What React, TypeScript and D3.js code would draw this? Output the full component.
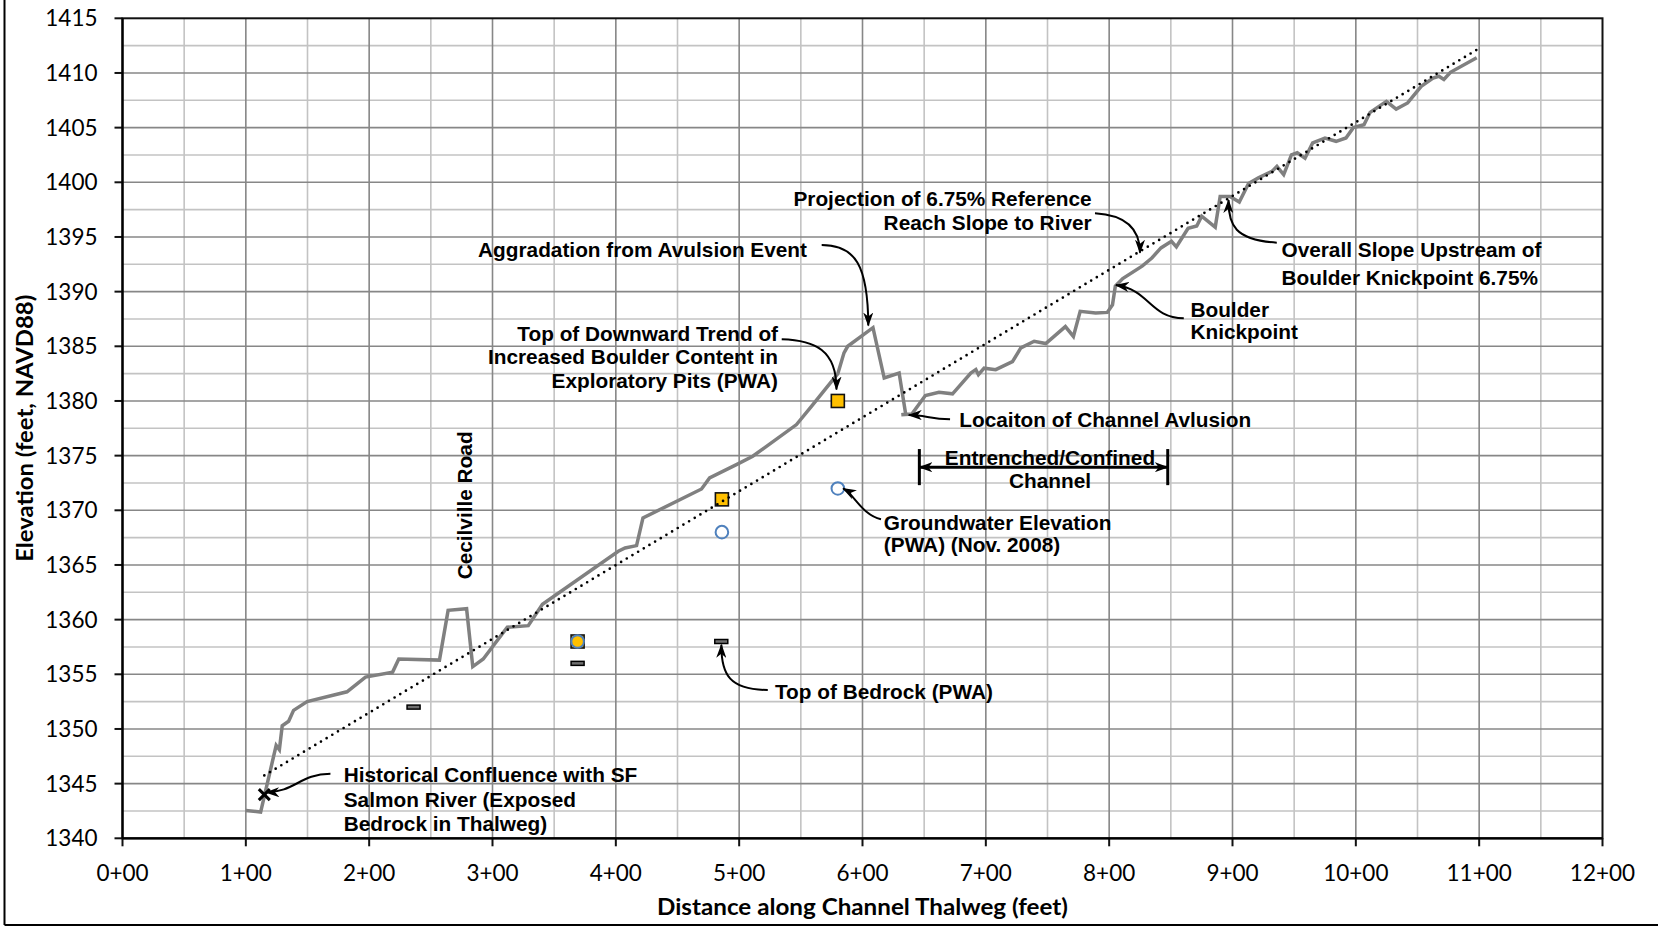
import React from "react";
import * as d3 from "d3";

// ---------- data (station in feet, elevation in feet NAVD88) ----------
const profileStation = [
  100, 112, 124.6, 127.2, 129.5, 134.7, 138.7, 149.7, 182, 197, 219, 224, 257, 264, 279, 284, 292.5,
  312, 329, 340.5, 402, 407.5, 416.8, 422, 469.5, 476, 499, 511, 546.5, 558.6, 580, 585, 588, 608.5,
  617.6, 629.7, 635, 631.5, 640, 651, 662, 673, 687.8, 691.9, 694, 698.6, 708, 721.6, 728.4, 739.2,
  748.6, 764.5, 771, 776.5, 789, 798.5, 802.7, 805, 811, 827, 834.6, 842, 850.5, 854.5, 864, 871, 875,
  886, 890, 898, 905.5, 913, 921, 932, 936, 941.5, 947.8, 952.5, 958.8, 965, 975, 984, 992, 998,
  1006.6, 1011.6, 1024.8, 1032.7, 1042, 1053, 1062.6, 1067.3, 1071.4, 1076.7, 1098,
];
const profileElevation = [
  1342.55, 1342.4, 1348.5, 1348.1, 1350.3, 1350.7, 1351.7, 1352.5, 1353.4, 1354.75, 1355.2, 1356.4,
  1356.3, 1360.85, 1361.0, 1355.7, 1356.4, 1359.3, 1359.45, 1361.4, 1366.25, 1366.56, 1366.77, 1369.3,
  1371.95, 1372.96, 1374.24, 1374.94, 1377.84, 1379.5, 1382.5, 1384.4, 1385.0, 1386.7, 1382.1, 1382.56,
  1378.8, 1378.75, 1378.8, 1380.5, 1380.8, 1380.65, 1382.56, 1382.87, 1382.4, 1383.0, 1382.86, 1383.6,
  1384.85, 1385.46, 1385.25, 1386.8, 1385.9, 1388.2, 1388.05, 1388.1, 1388.8, 1390.5, 1391.2, 1392.35,
  1393.08, 1394.0, 1394.6, 1394.1, 1395.8, 1396.0, 1396.9, 1395.9, 1398.7, 1398.7, 1398.2, 1399.9,
  1400.4, 1401.0, 1401.45, 1400.7, 1402.5, 1402.7, 1402.2, 1403.6, 1404.05, 1403.75, 1404.05, 1405.0,
  1405.27, 1406.4, 1407.4, 1406.7, 1407.26, 1408.78, 1409.54, 1409.7, 1409.4, 1410.06, 1411.4,
];
const referenceSlopeStation = [115, 1100];
const referenceSlopeElevation = [1345.75, 1412.25];

const pitStation = [369, 486, 580];
const pitElevation = [1358, 1371, 1380];

const groundwaterStation = [369, 486, 580];
const groundwaterElevation = [1358, 1368, 1372];

const bedrockStation = [236, 369, 485.5];
const bedrockElevation = [1352, 1356, 1358];

const confluenceStation = [115];
const confluenceElevation = [1344];

const xTickValues = [0, 100, 200, 300, 400, 500, 600, 700, 800, 900, 1000, 1100, 1200];
const xTickLabels = ["0+00", "1+00", "2+00", "3+00", "4+00", "5+00", "6+00", "7+00", "8+00", "9+00", "10+00", "11+00", "12+00"];
const yTickValues = [1340, 1345, 1350, 1355, 1360, 1365, 1370, 1375, 1380, 1385, 1390, 1395, 1400, 1405, 1410, 1415];

const xTitle = "Distance along Channel Thalweg (feet)";
const yTitle = "Elevation (feet, NAVD88)";

// ---------- annotations (anchored in data units) ----------
type Note = { lines: string[]; at: [number, number]; anchor: "start" | "end" | "middle"; lh: number; rotate?: boolean };
const notes: Note[] = [
  { lines: ["Historical Confluence with SF", "Salmon River (Exposed", "Bedrock in Thalweg)"], at: [179.4, 1345.79], anchor: "start", lh: 24.3 },
  { lines: ["Top of Bedrock (PWA)"], at: [529.0, 1353.43], anchor: "start", lh: 24 },
  { lines: ["Cecilville Road"], at: [277.7, 1370.45], anchor: "middle", lh: 24, rotate: true },
  { lines: ["Top of Downward Trend of", "Increased Boulder Content in", "Exploratory Pits (PWA)"], at: [531.5, 1386.19], anchor: "end", lh: 23.7 },
  { lines: ["Aggradation from Avulsion Event"], at: [555, 1393.85], anchor: "end", lh: 24 },
  { lines: ["Projection of 6.75% Reference", "Reach Slope to River"], at: [785.8, 1398.47], anchor: "end", lh: 23.3 },
  { lines: ["Overall Slope Upstream of", "Boulder Knickpoint 6.75%"], at: [939.7, 1393.81], anchor: "start", lh: 27.6 },
  { lines: ["Boulder", "Knickpoint"], at: [865.9, 1388.38], anchor: "start", lh: 22.6 },
  { lines: ["Locaiton of Channel Avlusion"], at: [678.5, 1378.32], anchor: "start", lh: 24 },
  { lines: ["Entrenched/Confined", "Channel"], at: [752, 1374.85], anchor: "middle", lh: 23.4 },
  { lines: ["Groundwater Elevation", "(PWA) (Nov. 2008)"], at: [617.3, 1368.87], anchor: "start", lh: 21.8 },
];

// cubic curves: start, control 1, control 2, tip
const arrows: [number, number][][] = [
  [[168.6, 1345.9], [143.9, 1345.88], [139.9, 1344.24], [116.5, 1344.2]],
  [[523.2, 1353.57], [492.5, 1353.57], [485.3, 1354.94], [485.6, 1357.7]],
  [[534.5, 1385.64], [561.5, 1385.55], [579.1, 1384.64], [578.9, 1381.05]],
  [[566.9, 1394.27], [593.9, 1394.27], [604.5, 1392.44], [604.7, 1386.9]],
  [[788.5, 1397.17], [812.8, 1397.01], [825, 1395.82], [825, 1393.56]],
  [[935.9, 1394.48], [902, 1394.72], [896.4, 1396.1], [896.8, 1398.38]],
  [[860.5, 1387.56], [833.1, 1387.59], [833.1, 1390.15], [805.5, 1390.6]],
  [[671, 1378.32], [654.7, 1378.35], [650.7, 1378.71], [637.5, 1378.71]],
  [[615, 1369.18], [599.6, 1369.57], [593.9, 1371.4], [584.3, 1372.0]],
];
const spanStation = [646.1, 847.5];
const spanElevation = 1373.94;
const spanBar = [1372.3, 1375.6];

export default function App() {
  const W = 1658;
  const H = 927;
  const x = d3.scaleLinear().domain([0, 1200]).range([122.5, 1602.5]);
  const y = d3.scaleLinear().domain([1340, 1415]).range([838.3, 18.3]);
  const line = d3.line<[number, number]>().x((d) => x(d[0])).y((d) => y(d[1]));

  const profile: [number, number][] = profileStation.map((s, i) => [s, profileElevation[i]]);
  const refLine: [number, number][] = referenceSlopeStation.map((s, i) => [s, referenceSlopeElevation[i]]);

  const minorX = d3.range(50, 1200, 100);
  const majorX = d3.range(100, 1200, 100);
  const minorY = d3.range(1342.5, 1415, 5);
  const majorY = d3.range(1345, 1415, 5);

  const noteFont = "'Liberation Sans', Arial, sans-serif";
  const noteSize = 20.8;
  const tickFont = "Lato, 'Open Sans', sans-serif";

  return (
    <>
      <style>{`body{margin:0;}`}</style>
      <svg width={W} height={H} style={{ display: "block", background: "#fff" }}>
        <defs>
          <marker id="ah" viewBox="0 0 14 10" refX="13" refY="5" markerWidth="14" markerHeight="10" markerUnits="userSpaceOnUse" orient="auto-start-reverse">
            <path d="M0,0 L14,5 L0,10 L4,5 Z" fill="#000" />
          </marker>
        </defs>

        {/* outer frame */}
        <line x1={4.5} x2={4.5} y1={0} y2={925} stroke="#000" strokeWidth={2} />
        <line x1={4.5} x2={W} y1={925} y2={925} stroke="#000" strokeWidth={2} />

        {/* grid */}
        <g>
          {minorX.map((v) => (
            <line key={"mx" + v} x1={x(v)} x2={x(v)} y1={y(1415)} y2={y(1340)} stroke="#c3c3c3" strokeWidth={1.6} />
          ))}
          {minorY.map((v) => (
            <line key={"my" + v} x1={x(0)} x2={x(1200)} y1={y(v)} y2={y(v)} stroke="#c3c3c3" strokeWidth={1.6} />
          ))}
          {majorX.map((v) => (
            <line key={"Mx" + v} x1={x(v)} x2={x(v)} y1={y(1415)} y2={y(1340)} stroke="#878787" strokeWidth={1.6} />
          ))}
          {majorY.map((v) => (
            <line key={"My" + v} x1={x(0)} x2={x(1200)} y1={y(v)} y2={y(v)} stroke="#878787" strokeWidth={1.6} />
          ))}
        </g>

        {/* plot border */}
        <rect x={x(0)} y={y(1415)} width={x(1200) - x(0)} height={y(1340) - y(1415)} fill="none" stroke="#111" strokeWidth={2} />

        {/* profile */}
        <path d={line(profile) || ""} fill="none" stroke="#808080" strokeWidth={3.5} strokeLinejoin="miter" strokeMiterlimit={3} />

        {/* bedrock */}
        {bedrockStation.map((s, i) => (
          <rect key={"b" + i} x={x(s) - 6.5} y={y(bedrockElevation[i]) - 2} width={13} height={4} fill="#6f6f6f" stroke="#000" strokeWidth={1.5} />
        ))}

        {/* pits */}
        {pitStation.map((s, i) => (
          <rect key={"p" + i} x={x(s) - 6.5} y={y(pitElevation[i]) - 6.5} width={13} height={13} fill="#FFC000" stroke="#111" strokeWidth={1.6} />
        ))}

        {/* groundwater */}
        {groundwaterStation.map((s, i) => (
          <circle key={"g" + i} cx={x(s)} cy={y(groundwaterElevation[i])} r={6.3} fill="none" stroke="#4F81BD" strokeWidth={2} />
        ))}

        {/* confluence X */}
        {confluenceStation.map((s, i) => {
          const cx = x(s);
          const cy = y(confluenceElevation[i]);
          return (
            <g key={"c" + i} stroke="#000" strokeWidth={3}>
              <line x1={cx - 5.5} y1={cy - 5.5} x2={cx + 5.5} y2={cy + 5.5} />
              <line x1={cx - 5.5} y1={cy + 5.5} x2={cx + 5.5} y2={cy - 5.5} />
            </g>
          );
        })}

        {/* reference slope */}
        <path d={line(refLine) || ""} fill="none" stroke="#000" strokeWidth={2.7} strokeDasharray="0 6.6" strokeLinecap="round" />

        {/* arrows */}
        {arrows.map((a, i) => (
          <path
            key={"a" + i}
            d={`M${x(a[0][0])},${y(a[0][1])} C${x(a[1][0])},${y(a[1][1])} ${x(a[2][0])},${y(a[2][1])} ${x(a[3][0])},${y(a[3][1])}`}
            fill="none"
            stroke="#000"
            strokeWidth={2}
            markerEnd="url(#ah)"
          />
        ))}

        {/* entrenched span */}
        <line x1={x(spanStation[0])} x2={x(spanStation[1])} y1={y(spanElevation)} y2={y(spanElevation)} stroke="#000" strokeWidth={3} markerStart="url(#ah)" markerEnd="url(#ah)" />
        {spanStation.map((s, i) => (
          <line key={"sb" + i} x1={x(s)} x2={x(s)} y1={y(spanBar[0])} y2={y(spanBar[1])} stroke="#000" strokeWidth={3} />
        ))}

        {/* notes */}
        {notes.map((n, i) => {
          const px = x(n.at[0]);
          const py = y(n.at[1]);
          if (n.rotate) {
            return (
              <text key={"n" + i} transform={`translate(${px},${py}) rotate(-90)`} textAnchor="middle" dy="0.35em" fontFamily={noteFont} fontWeight="bold" fontSize={noteSize} fill="#000">
                {n.lines[0]}
              </text>
            );
          }
          return (
            <text key={"n" + i} fontFamily={noteFont} fontWeight="bold" fontSize={noteSize} fill="#000" textAnchor={n.anchor}>
              {n.lines.map((l, j) => (
                <tspan key={j} x={px} y={py + j * n.lh} dy="0.35em">
                  {l}
                </tspan>
              ))}
            </text>
          );
        })}

        {/* axes ticks */}
        {yTickValues.map((v) => (
          <g key={"yt" + v}>
            <line x1={x(0) - 8} x2={x(0)} y1={y(v)} y2={y(v)} stroke="#111" strokeWidth={2} />
            <text x={x(0) - 25} y={y(v)} dy="0.36em" textAnchor="end" fontFamily={tickFont} fontSize={22.5} fill="#000">
              {v}
            </text>
          </g>
        ))}
        {xTickValues.map((v, i) => (
          <g key={"xt" + v}>
            <line x1={x(v)} x2={x(v)} y1={y(1340)} y2={y(1340) + 8} stroke="#111" strokeWidth={2} />
            <text x={x(v)} y={872.5} dy="0.36em" textAnchor="middle" fontFamily={tickFont} fontSize={22.5} fill="#000">
              {xTickLabels[i]}
            </text>
          </g>
        ))}
        <line x1={x(0)} x2={x(0)} y1={y(1415)} y2={y(1340)} stroke="#000" strokeWidth={2.2} />
        <line x1={x(0)} x2={x(1200)} y1={y(1340)} y2={y(1340)} stroke="#000" strokeWidth={2.2} />

        {/* titles */}
        <text x={(x(0) + x(1200)) / 2} y={907} dy="0.36em" textAnchor="middle" fontFamily={tickFont} fontWeight="bold" fontSize={22.5} textLength={411} lengthAdjust="spacingAndGlyphs" fill="#000">
          {xTitle}
        </text>
        <text transform={`translate(25,${(y(1340) + y(1415)) / 2}) rotate(-90)`} textAnchor="middle" dy="0.36em" fontFamily={tickFont} fontWeight="bold" fontSize={22.5} textLength={267} lengthAdjust="spacingAndGlyphs" fill="#000">
          {yTitle}
        </text>
      </svg>
    </>
  );
}
